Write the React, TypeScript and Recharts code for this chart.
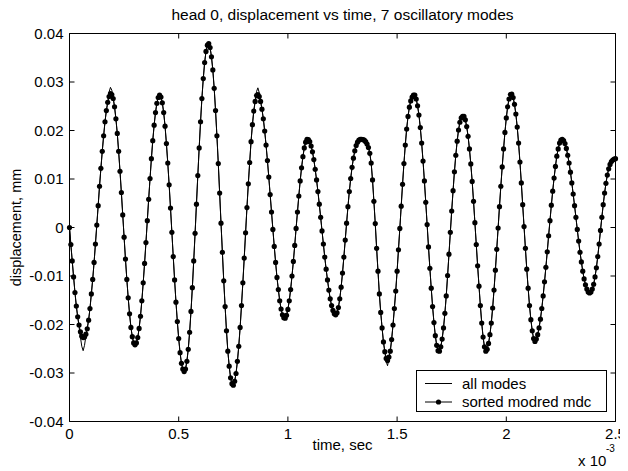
import React from 'react';
import { LineChart, Line, XAxis, YAxis, Legend } from 'recharts';

// ---------- data (time in units of 1e-3 s, displacement in mm) ----------
const SAMPLE_INTERVAL = 0.00625; // x 10^-3 s between samples

// sorted modred mdc : one value per sample
const sortedModredMdc: number[] = [
  0, -0.0035, -0.0069, -0.0102, -0.0134, -0.0162, -0.0184, -0.0201, -0.0215, -0.0224, // 0
  -0.0227, -0.0226, -0.022, -0.0209, -0.0191, -0.0167, -0.0137, -0.0107, -0.0072, -0.0034, // 10
  0.0005, 0.0045, 0.0085, 0.0122, 0.0157, 0.0189, 0.0218, 0.0241, 0.0258, 0.027, // 20
  0.0276, 0.0274, 0.0266, 0.0249, 0.0224, 0.0194, 0.0157, 0.0116, 0.0072, 0.0026, // 30
  -0.002, -0.0065, -0.0107, -0.0145, -0.0178, -0.0206, -0.0225, -0.0238, -0.0242, -0.0238, // 40
  -0.0227, -0.0208, -0.0183, -0.0151, -0.0114, -0.0074, -0.0031, 0.0014, 0.0058, 0.0101, // 50
  0.0142, 0.0179, 0.0211, 0.0237, 0.0256, 0.0268, 0.0273, 0.0269, 0.0257, 0.0237, // 60
  0.0209, 0.0173, 0.0133, 0.0088, 0.004, -0.001, -0.006, -0.0108, -0.0154, -0.0194, // 70
  -0.0229, -0.0258, -0.028, -0.0292, -0.0297, -0.0292, -0.0276, -0.0251, -0.0216, -0.0173, // 80
  -0.0124, -0.0069, -0.0012, 0.0048, 0.0107, 0.0164, 0.0218, 0.0266, 0.0307, 0.034, // 90
  0.0363, 0.0376, 0.0379, 0.0371, 0.0352, 0.0325, 0.0287, 0.0241, 0.0189, 0.0132, // 100
  0.0071, 0.0009, -0.0051, -0.011, -0.0163, -0.0213, -0.0255, -0.0286, -0.031, -0.0322, // 110
  -0.0325, -0.0317, -0.0301, -0.0276, -0.0245, -0.0206, -0.0161, -0.0114, -0.0063, -0.0011, // 120
  0.0041, 0.009, 0.0134, 0.0177, 0.0212, 0.024, 0.026, 0.0272, 0.0274, 0.027, // 130
  0.026, 0.0244, 0.0224, 0.0199, 0.017, 0.0138, 0.0104, 0.0068, 0.0032, -0.0004, // 140
  -0.0039, -0.0072, -0.0103, -0.0128, -0.0151, -0.0168, -0.018, -0.0186, -0.0187, -0.0181, // 150
  -0.0169, -0.0151, -0.0128, -0.01, -0.007, -0.0037, -0.0002, 0.0032, 0.0065, 0.0096, // 160
  0.0123, 0.0146, 0.0164, 0.0176, 0.0182, 0.0181, 0.0177, 0.0168, 0.0156, 0.014, // 170
  0.012, 0.0098, 0.0074, 0.0048, 0.0021, -0.0007, -0.0034, -0.0061, -0.0086, -0.0108, // 180
  -0.0129, -0.0147, -0.0161, -0.0171, -0.0178, -0.018, -0.0176, -0.0165, -0.0147, -0.0123, // 190
  -0.0094, -0.0061, -0.0026, 0.0009, 0.0043, 0.0074, 0.0101, 0.0124, 0.0143, 0.0158, // 200
  0.0169, 0.0176, 0.018, 0.0182, 0.0182, 0.0181, 0.018, 0.0177, 0.0172, 0.0165, // 210
  0.0153, 0.0133, 0.0098, 0.0054, 0.0008, -0.0043, -0.009, -0.0137, -0.0175, -0.0207, // 220
  -0.0236, -0.0256, -0.027, -0.0274, -0.0267, -0.0255, -0.0231, -0.0201, -0.0167, -0.0131, // 230
  -0.009, -0.0046, -0.0002, 0.0044, 0.0089, 0.0132, 0.017, 0.0203, 0.0229, 0.0248, // 240
  0.0261, 0.0269, 0.0273, 0.0273, 0.0265, 0.0251, 0.0232, 0.0206, 0.0174, 0.0137, // 250
  0.0096, 0.0052, 0.0006, -0.004, -0.0084, -0.0125, -0.0163, -0.0196, -0.0223, -0.0243, // 260
  -0.0254, -0.0255, -0.0246, -0.023, -0.0207, -0.0177, -0.0141, -0.0099, -0.0055, -0.001, // 270
  0.0034, 0.0076, 0.0115, 0.0149, 0.0178, 0.0201, 0.0217, 0.0226, 0.0229, 0.0229, // 280
  0.0222, 0.0208, 0.0188, 0.0162, 0.0131, 0.0095, 0.0054, 0.001, -0.0035, -0.0079, // 290
  -0.0121, -0.0161, -0.0197, -0.0226, -0.0246, -0.0255, -0.0251, -0.0239, -0.0221, -0.0197, // 300
  -0.0166, -0.0129, -0.0088, -0.0045, -0.0001, 0.0043, 0.0085, 0.0125, 0.0162, 0.0196, // 310
  0.0226, 0.0249, 0.0265, 0.0274, 0.0275, 0.0268, 0.0254, 0.0234, 0.0207, 0.0174, // 320
  0.0135, 0.0092, 0.0047, 0.0002, -0.0043, -0.0086, -0.0125, -0.0161, -0.019, -0.0213, // 330
  -0.0229, -0.0235, -0.023, -0.0221, -0.0207, -0.0189, -0.0167, -0.0141, -0.0112, -0.0082, // 340
  -0.005, -0.0017, 0.0014, 0.0046, 0.0075, 0.0102, 0.0126, 0.0147, 0.0162, 0.0174, // 350
  0.018, 0.0182, 0.0179, 0.0173, 0.0163, 0.0149, 0.0133, 0.0114, 0.0092, 0.0069, // 360
  0.0045, 0.0021, -0.0004, -0.0028, -0.0051, -0.0071, -0.009, -0.0106, -0.0118, -0.0127, // 370
  -0.0133, -0.0135, -0.0133, -0.0127, -0.0117, -0.0102, -0.0083, -0.006, -0.0034, -0.0006, // 380
  0.0021, 0.0047, 0.0071, 0.0091, 0.0108, 0.0121, 0.013, 0.0136, 0.0139, 0.0141, // 390
  0.0142, // 400
];

// all modes: samples where the full-model trace departs from the reduced trace
// [sample index, displacement]
const allModesDepartures: Array<[number, number]> = [
  [7, -0.0205], [8, -0.0226], [9, -0.0245], [10, -0.0254], [11, -0.0243], [12, -0.0224], [13, -0.0207],
  [29, 0.0279], [30, 0.0289], [31, 0.0283], [32, 0.0268],
  [137, 0.028], [138, 0.0288], [139, 0.0278],
  [232, -0.0276], [233, -0.0285], [234, -0.0271],
];

const xTicks = [0, 0.5, 1, 1.5, 2, 2.5];
const xTickLabels = ['0', '0.5', '1', '1.5', '2', '2.5'];
const yTicks = [-0.04, -0.03, -0.02, -0.01, 0, 0.01, 0.02, 0.03, 0.04];
const yTickLabels = ['-0.04', '-0.03', '-0.02', '-0.01', '0', '0.01', '0.02', '0.03', '0.04'];

const TITLE = 'head 0, displacement vs time, 7 oscillatory modes';
const X_LABEL = 'time, sec';
const X_SCALE_BASE = 'x 10';
const X_SCALE_EXP = '-3';
const Y_LABEL = 'displacement, mm';
const SERIES_ALL = 'all modes';
const SERIES_MDC = 'sorted modred mdc';

// ---------- table ----------
const departureMap = new Map<number, number>(allModesDepartures);
const rows = sortedModredMdc.map((v, i) => ({
  time: Number((i * SAMPLE_INTERVAL).toFixed(5)),
  mdc: v,
  all: departureMap.has(i) ? (departureMap.get(i) as number) : v,
}));

// ---------- layout / style (chart covers the whole 628x471 window) ----------
const W = 628;
const H = 471;
const PLOT_LEFT = 69.5;
const PLOT_RIGHT = 615.5;
const PLOT_TOP = 33.5;
const PLOT_BOTTOM = 421.5;
const FONT = "'Liberation Sans', Arial, Helvetica, sans-serif";
const FS = 15;
const TICK_LEN = 5;
const DOT_R = 2.6;

const findLabel = (ticks: number[], labels: string[], v: number) => {
  const i = ticks.findIndex((t) => Math.abs(t - v) < 1e-9);
  return i >= 0 ? labels[i] : String(v);
};

const BottomTick = (props: any) => {
  const { x, y, payload } = props;
  return (
    <g>
      <line x1={x} y1={y} x2={x} y2={y - TICK_LEN} stroke="#000" strokeWidth={1} />
      <text x={x} y={y + 17.5} textAnchor="middle" fontSize={FS} fontFamily={FONT} fill="#000">
        {findLabel(xTicks, xTickLabels, payload.value)}
      </text>
    </g>
  );
};

const TopTick = (props: any) => {
  const { x } = props;
  return <line x1={x} y1={PLOT_TOP} x2={x} y2={PLOT_TOP + TICK_LEN} stroke="#000" strokeWidth={1} />;
};

const LeftTick = (props: any) => {
  const { x, y, payload } = props;
  return (
    <g>
      <line x1={x} y1={y} x2={x + TICK_LEN} y2={y} stroke="#000" strokeWidth={1} />
      <text x={x - 6} y={y + 5.2} textAnchor="end" fontSize={FS} fontFamily={FONT} fill="#000">
        {findLabel(yTicks, yTickLabels, payload.value)}
      </text>
    </g>
  );
};

const RightTick = (props: any) => {
  const { y } = props;
  return <line x1={PLOT_RIGHT} y1={y} x2={PLOT_RIGHT - TICK_LEN} y2={y} stroke="#000" strokeWidth={1} />;
};

const TitleLabel = () => (
  <text x={(PLOT_LEFT + PLOT_RIGHT) / 2} y={20} textAnchor="middle" fontSize={15.5} fontFamily={FONT} fill="#000">
    {TITLE}
  </text>
);

const BottomLabel = () => (
  <g>
    <text x={(PLOT_LEFT + PLOT_RIGHT) / 2} y={450} textAnchor="middle" fontSize={FS} fontFamily={FONT} fill="#000">
      {X_LABEL}
    </text>
    <text x={578} y={466} fontSize={FS} fontFamily={FONT} fill="#000">
      {X_SCALE_BASE}
    </text>
    <text x={606} y={452} fontSize={10} fontFamily={FONT} fill="#000">
      {X_SCALE_EXP}
    </text>
  </g>
);

const LeftLabel = () => {
  const cx = 21;
  const cy = (PLOT_TOP + PLOT_BOTTOM) / 2;
  return (
    <text
      x={cx}
      y={cy}
      transform={`rotate(-90 ${cx} ${cy})`}
      textAnchor="middle"
      fontSize={14.5}
      fontFamily={FONT}
      fill="#000"
    >
      {Y_LABEL}
    </text>
  );
};

const renderLegend = (props: any) => {
  const payload: any[] = props.payload || [];
  return (
    <svg width={191} height={42} style={{ display: 'block' }}>
      <rect x={0.5} y={0.5} width={190} height={41} fill="#fff" stroke="#000" strokeWidth={1} />
      {payload.map((entry, i) => {
        const cy = 13.5 + i * 18.5;
        const withDot = entry.value === SERIES_MDC;
        return (
          <g key={String(entry.value)}>
            <line x1={9} x2={36} y1={cy} y2={cy} stroke="#000" strokeWidth={1} />
            {withDot && <circle cx={22.5} cy={cy} r={DOT_R} fill="#000" />}
            <text x={46} y={cy + 5.2} fontSize={FS} fontFamily={FONT} fill="#000">
              {entry.value}
            </text>
          </g>
        );
      })}
    </svg>
  );
};

export default function App() {
  return (
    <div style={{ width: W, height: H, marginLeft: -8, marginTop: -8, background: '#fff' }}>
      <LineChart
        width={W}
        height={H}
        data={rows}
        margin={{ top: PLOT_TOP - 1, right: W - PLOT_RIGHT - 1, bottom: 0, left: 0 }}
      >
        <XAxis
          xAxisId="bottom"
          dataKey="time"
          type="number"
          domain={[0, 2.5]}
          ticks={xTicks}
          interval={0}
          height={H - PLOT_BOTTOM}
          tickSize={0}
          tickMargin={0}
          tickLine={false}
          axisLine={{ stroke: '#000', strokeWidth: 1 }}
          tick={BottomTick}
          label={<BottomLabel />}
        />
        <XAxis
          xAxisId="top"
          orientation="top"
          dataKey="time"
          type="number"
          domain={[0, 2.5]}
          ticks={xTicks}
          interval={0}
          height={1}
          tickSize={0}
          tickMargin={0}
          tickLine={false}
          axisLine={{ stroke: '#000', strokeWidth: 1 }}
          tick={TopTick}
          label={<TitleLabel />}
        />
        <YAxis
          yAxisId="left"
          type="number"
          domain={[-0.04, 0.04]}
          ticks={yTicks}
          interval={0}
          width={PLOT_LEFT}
          tickSize={0}
          tickMargin={0}
          tickLine={false}
          axisLine={{ stroke: '#000', strokeWidth: 1 }}
          tick={LeftTick}
          label={<LeftLabel />}
        />
        <YAxis
          yAxisId="right"
          orientation="right"
          type="number"
          domain={[-0.04, 0.04]}
          ticks={yTicks}
          interval={0}
          width={1}
          tickSize={0}
          tickMargin={0}
          tickLine={false}
          axisLine={{ stroke: '#000', strokeWidth: 1 }}
          tick={RightTick}
        />
        <Line
          xAxisId="top"
          yAxisId="right"
          type="linear"
          dataKey="all"
          name={SERIES_ALL}
          stroke="#000"
          strokeWidth={1}
          dot={false}
          activeDot={false}
          isAnimationActive={false}
        />
        <Line
          xAxisId="bottom"
          yAxisId="left"
          type="linear"
          dataKey="mdc"
          name={SERIES_MDC}
          stroke="#000"
          strokeWidth={1}
          dot={{ r: DOT_R, fill: '#000', stroke: 'none' }}
          activeDot={false}
          isAnimationActive={false}
        />
        <Legend
          layout="vertical"
          align="center"
          verticalAlign="middle"
          wrapperStyle={{ left: 416, top: 370, width: 191, height: 42 }}
          content={renderLegend}
        />
      </LineChart>
    </div>
  );
}
